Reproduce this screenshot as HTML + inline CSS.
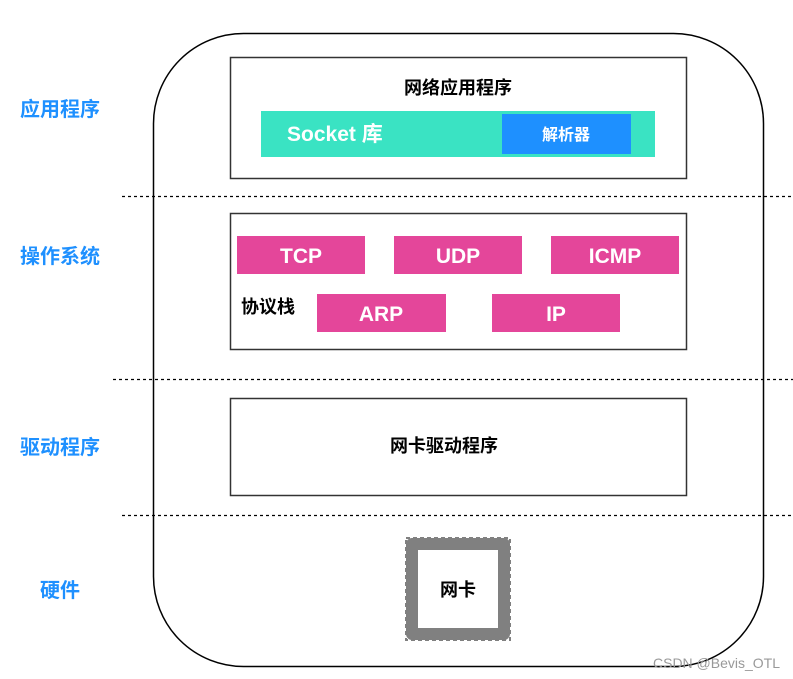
<!DOCTYPE html>
<html><head><meta charset="utf-8"><style>
html,body{margin:0;padding:0;background:#fff;}
svg{display:block;}
text{font-family:"Liberation Sans","Noto Sans CJK SC",sans-serif;}
</style></head><body>
<svg width="793" height="679" viewBox="0 0 793 679" xmlns="http://www.w3.org/2000/svg">
<rect x="153.5" y="33.5" width="610" height="633" rx="90" ry="90" fill="none" stroke="#000" stroke-width="1.5"/>
<g stroke="#000" stroke-width="1.2" stroke-dasharray="3,3">
<line x1="122" y1="196.5" x2="793" y2="196.5"/>
<line x1="113" y1="379.5" x2="793" y2="379.5"/>
<line x1="122" y1="515.5" x2="793" y2="515.5"/>
</g>
<g fill="#1e90ff" font-size="20" font-weight="bold">
<text x="20" y="116">应用程序</text>
<text x="20" y="263">操作系统</text>
<text x="20" y="454">驱动程序</text>
<text x="40" y="597">硬件</text>
</g>
<g fill="none" stroke="#333" stroke-width="1.5">
<rect x="230.5" y="57.5" width="456" height="121"/>
<rect x="230.5" y="213.5" width="456" height="136"/>
<rect x="230.5" y="398.5" width="456" height="97"/>
</g>
<text x="458" y="94" font-size="18" font-weight="bold" text-anchor="middle">网络应用程序</text>
<rect x="261" y="111" width="394" height="46" fill="#3ae3c3"/>
<text x="287" y="141" font-size="21" fill="#fff" font-weight="bold">Socket 库</text>
<rect x="502" y="114" width="129" height="40" fill="#1e90ff"/>
<text x="566" y="140" font-size="16" fill="#fff" text-anchor="middle" font-weight="bold">解析器</text>
<g fill="#e4469a">
<rect x="237" y="236" width="128" height="38"/>
<rect x="394" y="236" width="128" height="38"/>
<rect x="551" y="236" width="128" height="38"/>
<rect x="317" y="294" width="129" height="38"/>
<rect x="492" y="294" width="128" height="38"/>
</g>
<g fill="#fff" font-size="21" text-anchor="middle" font-weight="bold">
<text x="301" y="263">TCP</text>
<text x="458" y="263">UDP</text>
<text x="615" y="263">ICMP</text>
<text x="381" y="321">ARP</text>
<text x="556" y="321">IP</text>
</g>
<text x="241" y="313" font-size="18" font-weight="bold">协议栈</text>
<text x="444" y="452" font-size="18" font-weight="bold" text-anchor="middle">网卡驱动程序</text>
<rect x="412" y="544" width="92" height="90" fill="none" stroke="#808080" stroke-width="12" stroke-linejoin="round"/>
<rect x="406" y="538" width="104" height="102" fill="none" stroke="#808080" stroke-width="2" stroke-dasharray="4,3"/>
<text x="458" y="596" font-size="18" font-weight="bold" text-anchor="middle">网卡</text>
<text x="653" y="668" font-size="14" fill="#999">CSDN @Bevis_OTL</text>
</svg>
</body></html>
